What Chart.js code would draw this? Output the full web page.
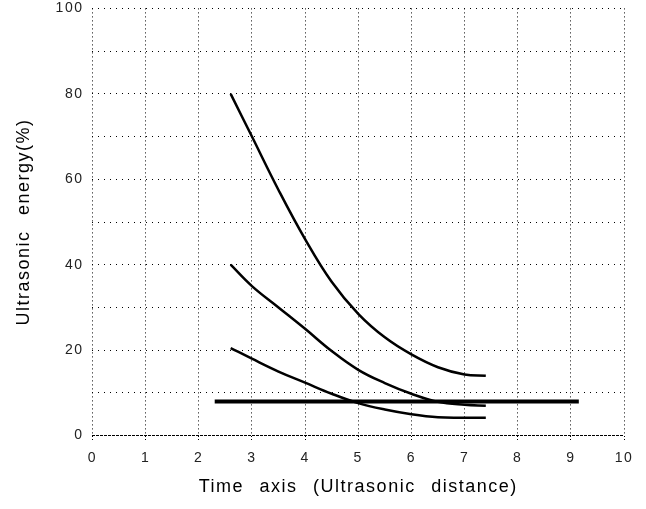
<!DOCTYPE html>
<html>
<head>
<meta charset="utf-8">
<script src="https://cdn.jsdelivr.net/npm/chart.js@4/dist/chart.umd.min.js"></script>
<style>
  body { margin: 0; background: #fff; }
  #wrap { width: 646px; height: 509px; }
</style>
</head>
<body>
<div id="wrap"><canvas id="chart" width="646" height="509"></canvas></div>
<script>
// values
const xValues = [2.6, 3, 3.5, 4, 4.5, 5, 5.5, 6, 6.5, 7, 7.4];
const energyHigh = [80, 70, 57.5, 46, 36, 28.5, 23, 19, 16, 14.3, 14];
const energyMid = [40, 35, 30, 25, 19.8, 15.4, 12.3, 9.8, 7.9, 7.2, 7];
const energyLow = [20.5, 18, 15, 12.4, 9.8, 7.6, 6.1, 5, 4.3, 4.2, 4.2];
const baseX = [2.3, 9.15];
const baseY = [8, 8];

const toPoints = (xs, ys) => xs.map((x, i) => ({ x: x, y: ys[i] }));

const curve = (label, ys) => ({
  label: label,
  data: toPoints(xValues, ys),
  borderColor: "#000",
  borderWidth: 2.5,
  pointRadius: 0,
  tension: 0.4,
  fill: false,
});

// the original text is drawn a little spread out
const setSpacing = (chart) => {
  chart.ctx.letterSpacing = "1.5px";
  chart.ctx.wordSpacing = "9px";
};
const spacing = {
  id: "spacing",
  beforeLayout: setSpacing,
  beforeDraw: setSpacing,
};

const Config = {
  type: "line",
  data: {
    datasets: [
      curve("high", energyHigh),
      curve("mid", energyMid),
      curve("low", energyLow),
      {
        label: "base",
        data: toPoints(baseX, baseY),
        borderColor: "#000",
        borderWidth: 4,
        pointRadius: 0,
        fill: false,
      },
    ],
  },
  options: {
    responsive: false,
    animation: false,
    layout: { padding: { left: 5, right: 22, top: 0, bottom: 5 } },
    plugins: { legend: { display: false }, tooltip: { enabled: false } },
    scales: {
      x: {
        type: "linear",
        min: 0,
        max: 10,
        ticks: {
          stepSize: 1,
          padding: 8,
          color: "#222",
          font: { family: "Liberation Sans", size: 14 },
        },
        grid: { color: "#000", lineWidth: 1, tickLength: 6, tickBorderDash: [1, 2] },
        border: { display: false, dash: [1, 3] },
        title: {
          display: true,
          text: "Time axis (Ultrasonic distance)",
          color: "#000",
          font: { family: "Liberation Sans", size: 18 },
          padding: { top: 2, bottom: 6 },
        },
      },
      y: {
        min: 0,
        max: 100,
        ticks: {
          stepSize: 10,
          padding: 0,
          color: "#222",
          font: { family: "Liberation Sans", size: 14 },
          callback: (v) => (v % 20 === 0 ? v : ""),
        },
        // invisible tick marks keep the labels clear of the axis
        grid: { color: "#000", lineWidth: 1, drawTicks: true, tickLength: 9, tickColor: "rgba(0,0,0,0)" },
        border: {
          display: false,
          dash: (ctx) => (ctx.tick && ctx.tick.value === 0 ? [3, 1] : [1, 5]),
        },
        title: {
          display: true,
          text: "Ultrasonic energy(%)",
          color: "#000",
          font: { family: "Liberation Sans", size: 18 },
          padding: { top: 8, bottom: 21 },
        },
      },
    },
  },
  plugins: [spacing],
};

new Chart(document.getElementById("chart"), Config);
</script>
</body>
</html>
